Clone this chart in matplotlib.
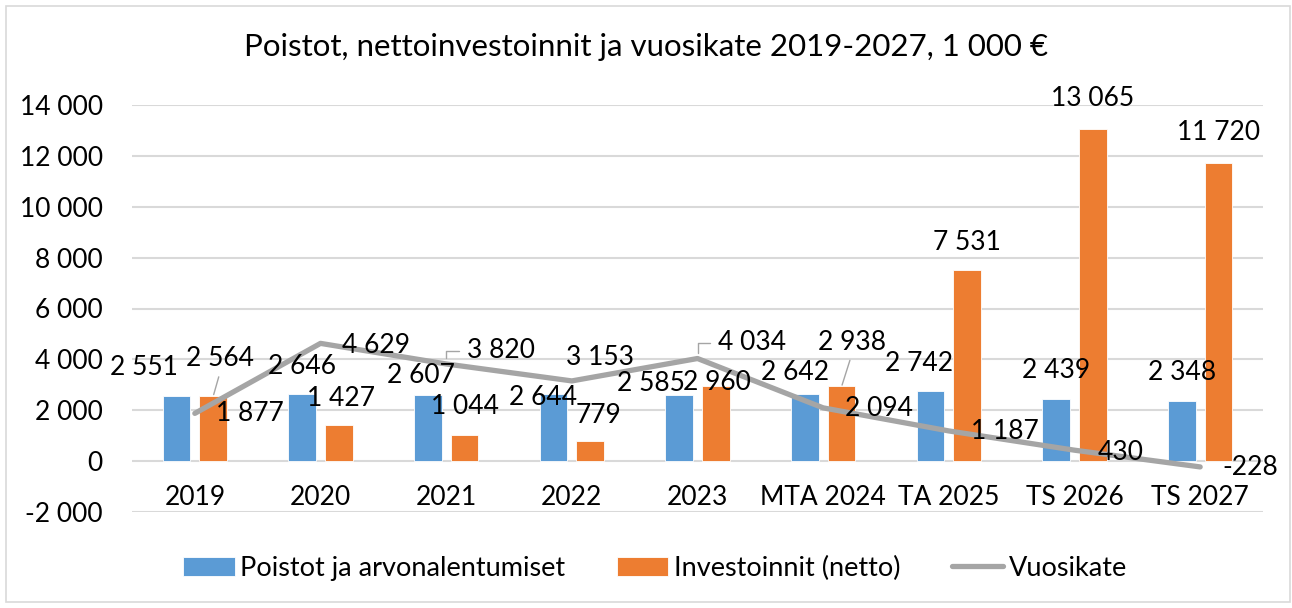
import matplotlib.pyplot as plt
from matplotlib.patches import Rectangle

# data (1 000 €)
years = ["2019", "2020", "2021", "2022", "2023", "MTA 2024", "TA 2025", "TS 2026", "TS 2027"]
poistot = [2551, 2646, 2607, 2644, 2585, 2642, 2742, 2439, 2348]
investoinnit = [2564, 1427, 1044, 779, 2960, 2938, 7531, 13065, 11720]
vuosikate = [1877, 4629, 3820, 3153, 4034, 2094, 1187, 430, -228]

yticks = [-2000, 0, 2000, 4000, 6000, 8000, 10000, 12000, 14000]

# label offsets in pixels (dx, dy) from the mark, as placed in the original
off_poistot = [(-32, 29), (0, 27), (-7, 19), (-10, -4), (-28, 12), (-10, 21), (-11, 28), (0, 29), (0, 29)]
off_invest = [(7, 37), (2, 26), (0, 28), (8, 26), (1, 3), (10, 44), (0, 27), (0, 30), (0, 30)]
off_vk = [(55, 0), (55, -2), (55, 13), (28, 23), (55, 16), (56, -1), (56, -1), (46, -2), (50, -1)]

BLUE = "#5B9BD5"
ORANGE = "#ED7D31"
GRAY = "#A5A5A5"
GRID = "#D9D9D9"

plt.rcParams["font.family"] = ["Lato", "DejaVu Sans"]
FS = 19


def fmt(v):
    s = f"{abs(v):,}".replace(",", " ")
    return "-" + s if v < 0 else s


fig = plt.figure(figsize=(12.92, 6.08), dpi=100)
ax = fig.add_axes([132 / 1292, 1 - 512 / 608, (1263 - 132) / 1292, (512 - 105) / 608])

x = list(range(len(years)))
w = 0.22
d = 0.147
xb = [i - d for i in x]
xo = [i + d for i in x]

b1 = ax.bar(xb, poistot, width=w, color=BLUE, edgecolor="white", linewidth=0.6, zorder=2)
b2 = ax.bar(xo, investoinnit, width=w, color=ORANGE, edgecolor="white", linewidth=0.6, zorder=2)
l1, = ax.plot(x, vuosikate, color=GRAY, linewidth=3.8, solid_capstyle="round", zorder=3)

ax.set_xlim(-0.5, len(years) - 0.5)
ax.set_ylim(-2000, 14000)
ax.set_yticks(yticks)
ax.set_yticklabels([fmt(v) for v in yticks])
ax.yaxis.grid(True, color=GRID, linewidth=1.5, zorder=0)
ax.set_axisbelow(True)
for s in ax.spines.values():
    s.set_visible(False)
ax.spines["bottom"].set_position(("data", 0))
ax.set_xticks(x)
ax.set_xticklabels(years)
ax.tick_params(axis="both", length=0, labelsize=FS, colors="black")
ax.tick_params(axis="x", pad=17)
ax.tick_params(axis="y", pad=21)

# data labels
for xi, v, (dx, dy) in zip(xb, poistot, off_poistot):
    ax.annotate(fmt(v), (xi, v), xytext=(dx, dy), textcoords="offset pixels",
                ha="center", va="center", fontsize=FS, zorder=5)

for i, (xi, v, (dx, dy)) in enumerate(zip(xo, investoinnit, off_invest)):
    arrow = None
    if i in (0, 5):
        arrow = dict(arrowstyle="-", color=GRAY, lw=1, shrinkA=2, shrinkB=1, relpos=(0.5, 0))
    ax.annotate(fmt(v), (xi, v), xytext=(dx, dy), textcoords="offset pixels",
                ha="center", va="center", fontsize=FS, zorder=5, arrowprops=arrow)

for i, (xi, v, (dx, dy)) in enumerate(zip(x, vuosikate, off_vk)):
    arrow = None
    if i in (2, 4):
        arrow = dict(arrowstyle="-", color=GRAY, lw=1, shrinkA=4, shrinkB=4, relpos=(0, 0.5),
                     connectionstyle="angle,angleA=0,angleB=90,rad=0")
    ax.annotate(fmt(v), (xi, v), xytext=(dx, dy), textcoords="offset pixels",
                ha="center", va="center", fontsize=FS, zorder=5, arrowprops=arrow)

fig.text(646 / 1292, 1 - 47 / 608, "Poistot, nettoinvestoinnit ja vuosikate 2019-2027, 1 000 €",
         ha="center", va="center", fontsize=22.5)

fig.legend([b1, b2, l1], ["Poistot ja arvonalentumiset", "Investoinnit (netto)", "Vuosikate"],
           loc="center", bbox_to_anchor=(655 / 1292, 1 - 568 / 608), ncol=3, frameon=False,
           fontsize=19.5, handlelength=1.9, handleheight=0.7, handletextpad=0.2, columnspacing=1.9)

fig.patches.append(Rectangle((6 / 1292, 6 / 608), 1284 / 1292, 596 / 608, transform=fig.transFigure,
                             fill=False, edgecolor=GRID, linewidth=1.2))

fig.savefig("out.png", dpi=100)
